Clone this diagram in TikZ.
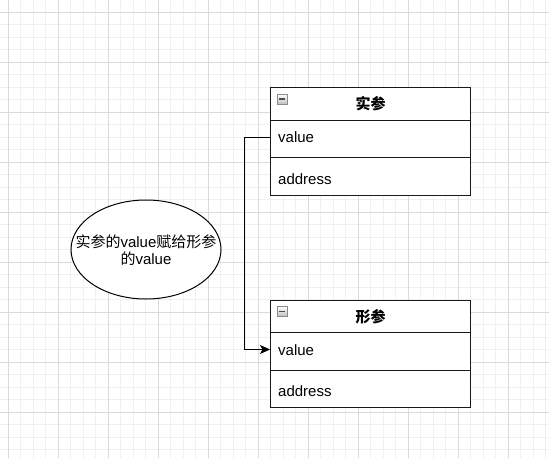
\documentclass[tikz,border=0pt]{standalone}
\usepackage{fontspec}
\setmainfont{Liberation Sans}
\newfontfamily\cjk{Noto Sans CJK SC}
\usetikzlibrary{arrows.meta,shapes.geometric}
\definecolor{minorg}{RGB}{240,240,240}
\definecolor{majorg}{RGB}{218,218,218}
\tikzset{
  minorgrid/.style={draw=minorg,line width=0.8pt},
  majorgrid/.style={draw=majorg,line width=0.8pt},
  classpart/.style={draw=black!90,line width=1pt,fill=white,minimum width=200pt,inner sep=0pt},
  attrtext/.style={anchor=west,inner sep=0pt,font=\fontsize{15pt}{17.5pt}\selectfont},
  headtext/.style={inner sep=0pt,font=\fontsize{15pt}{17.5pt}\selectfont\cjk\bfseries},
  iconbox/.style={draw=black!45,line width=0.7pt,minimum size=10pt,inner sep=0pt,
    top color=white,bottom color=black!25,
    path picture={\draw[black!70,line width=1.6pt] ([xshift=-3pt]path picture bounding box.center) -- ([xshift=3pt]path picture bounding box.center);}},
  bubble/.style={ellipse,draw=black,line width=1pt,fill=white,minimum width=150pt,minimum height=99pt,inner sep=0pt},
  bubbletext/.style={inner sep=0pt,align=center,font=\fontsize{15pt}{17.5pt}\selectfont},
  conn/.style={draw=black,line width=1pt,-{Stealth[length=10pt,width=9pt,inset=2.5pt]}}
}
\begin{document}
\begin{tikzpicture}[x=1pt,y=-1pt]
\useasboundingbox (0,0) rectangle (549,458);
\fill[white] (0,0) rectangle (549,458);
\begin{scope}
\clip (0,0) rectangle (549,458);
\foreach \i in {0,...,44} \draw[minorgrid] ({-4.5+12.5*\i},0) -- ++(0,458);
\foreach \i in {0,...,37} \draw[minorgrid] (0,{-0.5+12.5*\i}) -- ++(549,0);
\foreach \x in {8,58,...,508} \draw[majorgrid] (\x,0) -- (\x,458);
\foreach \y in {12,62,...,412} \draw[majorgrid] (0,\y) -- (549,\y);
\end{scope}

% top class
\node[classpart,minimum height=32.5pt] (ha) at (370.5,103.75) {};
\node[classpart,minimum height=37.5pt] (va) at (370.5,138.75) {};
\node[classpart,minimum height=37.5pt] (aa) at (370.5,176.25) {};
\node[headtext] (ta) at (370.5,104) {实参};
\node[iconbox] (ia) at (282,99) {};
\node[attrtext] (tva) at (278,137.5) {value};
\node[attrtext] (taa) at (278,179) {address};

% bottom class
\node[classpart,minimum height=32.5pt] (hb) at (370.5,316.25) {};
\node[classpart,minimum height=37.5pt] (vb) at (370.5,351.25) {};
\node[classpart,minimum height=37.5pt] (ab) at (370.5,388.75) {};
\node[headtext] (tb) at (370.5,316.5) {形参};
\node[iconbox] (ib) at (282,311.5) {};
\node[attrtext] (tvb) at (278,350) {value};
\node[attrtext] (tab) at (278,391.5) {address};

% ellipse
\node[bubble] (e) at (146,249.5) {};
\node[bubbletext] (et) at (146,250) {{\cjk 实参的}value{\cjk 赋给形参}\\{\cjk 的}value};

% connector
\draw[conn] ([yshift=1.75pt]va.west) -- ++(-25.5,0) |- ([yshift=1.75pt]vb.west);
\end{tikzpicture}
\end{document}
